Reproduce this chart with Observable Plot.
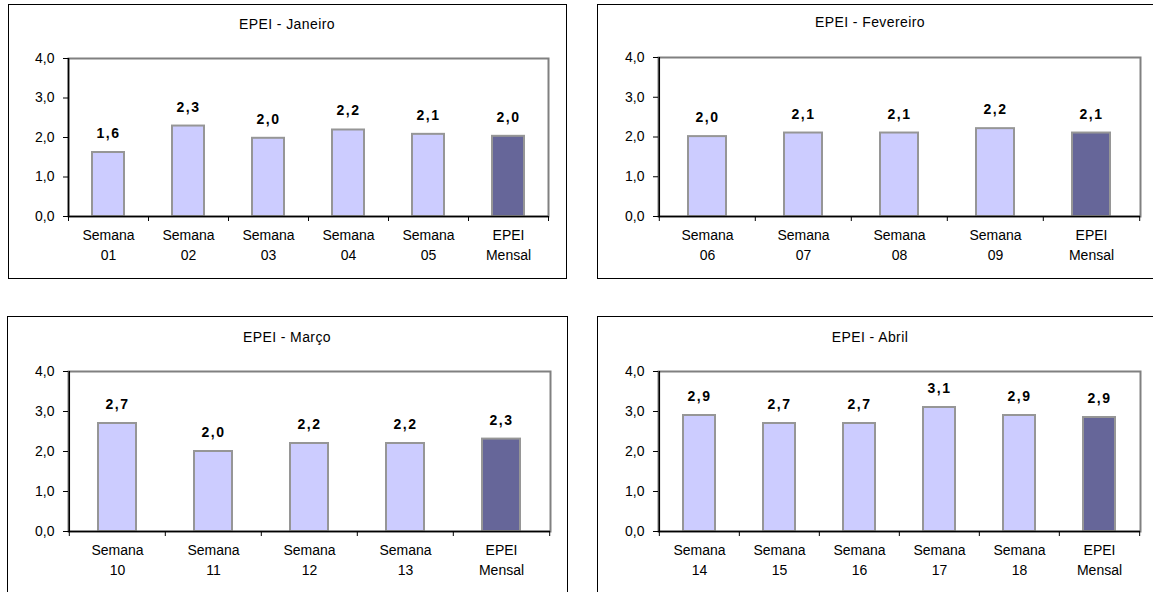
<!DOCTYPE html>
<html><head><meta charset="utf-8">
<script src="https://cdn.jsdelivr.net/npm/d3@7"></script>
<script src="https://cdn.jsdelivr.net/npm/@observablehq/plot@0.6"></script>
<style>
body{margin:0;background:#fff;font-family:"Liberation Sans",Arial,sans-serif;}
#root{position:relative;width:1153px;height:592px;overflow:hidden;background:#fff;}
.panel{position:absolute;border:1px solid #000;box-sizing:border-box;background:#fff;overflow:hidden;}
.panel svg{position:absolute;left:0;top:0;}
.title{position:absolute;text-align:center;font-size:14px;color:#000;white-space:nowrap;letter-spacing:0.4px;}
</style></head>
<body><div id="root"></div>
<script>
// ---- data ----
const janTitle = "EPEI - Janeiro";
const janTop = ["Semana","Semana","Semana","Semana","Semana","EPEI"];
const janBottom = ["01","02","03","04","05","Mensal"];
const janValues = [1.62, 2.29, 1.98, 2.19, 2.08, 2.03];
const janLabels = ["1,6","2,3","2,0","2,2","2,1","2,0"];
const janKind = ["semana","semana","semana","semana","semana","mensal"];

const fevTitle = "EPEI - Fevereiro";
const fevTop = ["Semana","Semana","Semana","Semana","EPEI"];
const fevBottom = ["06","07","08","09","Mensal"];
const fevValues = [2.01, 2.1, 2.1, 2.21, 2.1];
const fevLabels = ["2,0","2,1","2,1","2,2","2,1"];
const fevKind = ["semana","semana","semana","semana","mensal"];

const marTitle = "EPEI - Março";
const marTop = ["Semana","Semana","Semana","Semana","EPEI"];
const marBottom = ["10","11","12","13","Mensal"];
const marValues = [2.7, 2.0, 2.2, 2.2, 2.31];
const marLabels = ["2,7","2,0","2,2","2,2","2,3"];
const marKind = ["semana","semana","semana","semana","mensal"];

const abrTitle = "EPEI - Abril";
const abrTop = ["Semana","Semana","Semana","Semana","Semana","EPEI"];
const abrBottom = ["14","15","16","17","18","Mensal"];
const abrValues = [2.9, 2.7, 2.7, 3.1, 2.9, 2.85];
const abrLabels = ["2,9","2,7","2,7","3,1","2,9","2,9"];
const abrKind = ["semana","semana","semana","semana","semana","mensal"];

const yTicks = [0, 1, 2, 3, 4];

// ---- layout ----
const root = document.getElementById("root");

function panel(cfg) {
  const {title, top, bottom, values, labels, kind, box, m, titleY, titleCx} = cfg;
  const rows = top.map((t, i) => ({key: t + " " + bottom[i], top: t, bottom: bottom[i], value: values[i], label: labels[i], kind: kind[i]}));
  const div = document.createElement("div");
  div.className = "panel";
  div.style.left = box.x + "px"; div.style.top = box.y + "px";
  div.style.width = box.w + "px"; div.style.height = box.h + "px";
  root.appendChild(div);
  const W = box.w - 2, H = box.h - 2;
  const n = rows.length;
  const step = (W - m.l - m.r) / n;
  const last = rows[n - 1];
  const chart = Plot.plot({
    width: W, height: H,
    marginLeft: m.l, marginRight: m.r, marginTop: m.t, marginBottom: m.b,
    style: {fontFamily: "'Liberation Sans', Arial, sans-serif", fontSize: "14px", background: "white", color: "black"},
    x: {domain: rows.map(d => d.key), paddingInner: 0.6, paddingOuter: 0.3, axis: null},
    y: {domain: [0, 4], axis: null},
    color: {domain: ["semana", "mensal"], range: ["#CCCCFF", "#666699"]},
    marks: [
      Plot.frame({stroke: "#808080", strokeWidth: 2}),
      Plot.barY(rows, {x: "key", y: "value", fill: "kind", stroke: "#969696", strokeWidth: 2}),
      Plot.ruleY([0], {stroke: "black", strokeWidth: 1.5}),
      Plot.ruleX([rows[0]], {x: "key", y1: 0, y2: 4, dx: -step / 2, stroke: "black", strokeWidth: 1.5}),
      Plot.ruleX(rows, {x: "key", y1: 0, y2: 0, dx: -step / 2, insetBottom: -5, stroke: "black"}),
      Plot.ruleX([last], {x: "key", y1: 0, y2: 0, dx: step / 2, insetBottom: -5, stroke: "black"}),
      Plot.axisY(yTicks, {anchor: "left", label: null, tickSize: 5, tickPadding: 9, fontSize: 14, tickFormat: d => d.toFixed(1).replace(".", ",")}),
      Plot.text(rows, {x: "key", frameAnchor: "bottom", text: "top", dy: 23, fontSize: 14}),
      Plot.text(rows, {x: "key", frameAnchor: "bottom", text: "bottom", dy: 43, fontSize: 14}),
      Plot.text(rows, {x: "key", y: "value", text: "label", dy: -19, fontWeight: "bold", fontSize: 14})
    ]
  });
  d3.select(chart).selectAll('g[font-weight="bold"] text').style("letter-spacing", "1.5px");
  div.appendChild(chart);
  const t = document.createElement("div");
  t.className = "title";
  t.textContent = title;
  t.style.width = "300px";
  t.style.left = (titleCx - box.x - 1 - 150) + "px";
  t.style.top = (titleY - box.y - 1 - 9) + "px";
  div.appendChild(t);
}

panel({title: janTitle, top: janTop, bottom: janBottom, values: janValues, labels: janLabels, kind: janKind,
  box: {x: 8, y: 4, w: 559, h: 275}, m: {l: 59, r: 18, t: 53, b: 62}, titleY: 25, titleCx: 287});
panel({title: fevTitle, top: fevTop, bottom: fevBottom, values: fevValues, labels: fevLabels, kind: fevKind,
  box: {x: 597, y: 4, w: 562, h: 275}, m: {l: 60, r: 18, t: 52, b: 62}, titleY: 23, titleCx: 870});
panel({title: marTitle, top: marTop, bottom: marBottom, values: marValues, labels: marLabels, kind: marKind,
  box: {x: 7, y: 316, w: 561, h: 282}, m: {l: 60, r: 17, t: 54, b: 66}, titleY: 338, titleCx: 287});
panel({title: abrTitle, top: abrTop, bottom: abrBottom, values: abrValues, labels: abrLabels, kind: abrKind,
  box: {x: 597, y: 316, w: 562, h: 282}, m: {l: 60, r: 18, t: 54, b: 66}, titleY: 338, titleCx: 870});
</script>
</body></html>
